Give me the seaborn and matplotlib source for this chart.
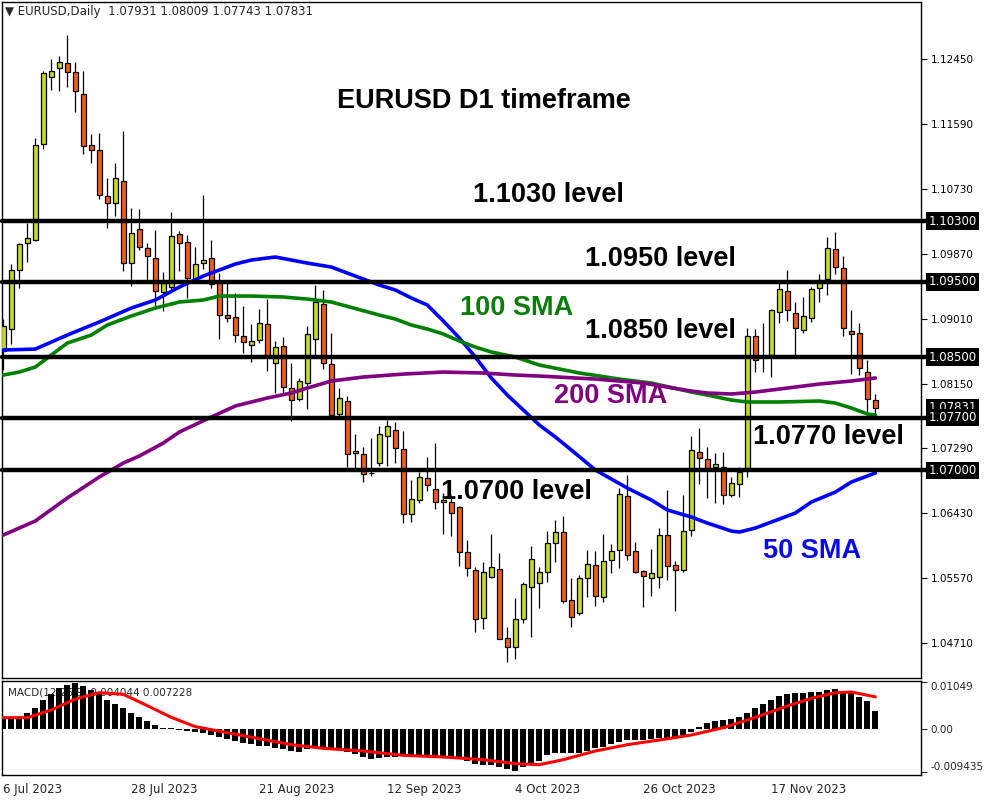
import matplotlib
matplotlib.use("Agg")
import matplotlib.pyplot as plt
import matplotlib.transforms as mtransforms
import pandas as pd
import seaborn as sns

sns.set_style("white")
plt.rcParams["font.family"] = ["DejaVu Sans"]

# -------------------------------
# Data (EURUSD daily, 6 Jul 2023 -> 6 Dec 2023)
# -------------------------------
opens = [1.08587, 1.08869, 1.09649, 1.10010, 1.10047, 1.11320, 1.12209, 1.12328, 1.12392, 1.12274,
         1.11981, 1.11305, 1.11251, 1.10631, 1.10540, 1.10831, 1.09754, 1.10192, 1.09942, 1.09810,
         1.09359, 1.09433, 1.10128, 1.10022, 1.09535, 1.09743, 1.09810, 1.09492, 1.09054, 1.09032,
         1.08780, 1.08657, 1.08723, 1.08935, 1.08418, 1.08648, 1.08087, 1.07949, 1.08153, 1.08736,
         1.09200, 1.08405, 1.07747, 1.07915, 1.07226, 1.07217, 1.06961, 1.07101, 1.07459, 1.07531,
         1.07279, 1.06418, 1.06607, 1.06895, 1.06757, 1.06577, 1.06577, 1.06510, 1.05914, 1.05676,
         1.05048, 1.05591, 1.05689, 1.04775, 1.04655, 1.05034, 1.05450, 1.05503, 1.05649, 1.06033,
         1.06179, 1.05282, 1.05106, 1.05570, 1.05742, 1.05326, 1.05808, 1.05949, 1.06656, 1.05927,
         1.05666, 1.05570, 1.05591, 1.06139, 1.05742, 1.05676, 1.06206, 1.07239, 1.07150, 1.07040,
         1.07048, 1.06669, 1.06819, 1.07027, 1.08776, 1.08502, 1.08528, 1.09094, 1.09376, 1.09081,
         1.08860, 1.09015, 1.09420, 1.09531, 1.09929, 1.09677, 1.08846, 1.08816, 1.08307, 1.07931]
highs = [1.09005, 1.09737, 1.10010, 1.10275, 1.11402, 1.12291, 1.12452, 1.12487, 1.12766, 1.12411,
         1.12291, 1.11457, 1.11470, 1.10868, 1.11074, 1.11498, 1.10476, 1.10461, 1.10019, 1.10183,
         1.09624, 1.10419, 1.10171, 1.10114, 1.09955, 1.10648, 1.10052, 1.09611, 1.09492, 1.09346,
         1.09178, 1.08939, 1.09138, 1.09274, 1.08714, 1.08767, 1.08422, 1.08224, 1.08913, 1.09456,
         1.09390, 1.08820, 1.08091, 1.07985, 1.07482, 1.07305, 1.07429, 1.07588, 1.07667, 1.07641,
         1.07517, 1.06872, 1.06974, 1.07173, 1.07358, 1.06704, 1.06673, 1.06532, 1.06077, 1.05723,
         1.05782, 1.06157, 1.05901, 1.04920, 1.05305, 1.05525, 1.05998, 1.05723, 1.06196, 1.06342,
         1.06395, 1.05570, 1.05613, 1.05941, 1.05931, 1.06157, 1.06024, 1.06762, 1.06938, 1.06051,
         1.05680, 1.05958, 1.06236, 1.06740, 1.05795, 1.06669, 1.07459, 1.07557, 1.07305, 1.07226,
         1.07239, 1.06916, 1.07048, 1.08882, 1.08873, 1.08956, 1.09134, 1.09500, 1.09655, 1.09235,
         1.09293, 1.09433, 1.09598, 1.10096, 1.10162, 1.09840, 1.09125, 1.08948, 1.08462, 1.08009]
lows = [1.08335, 1.08669, 1.09421, 1.09763, 1.10040, 1.11260, 1.12045, 1.12032, 1.12086, 1.11744,
        1.11188, 1.11078, 1.10599, 1.10206, 1.10375, 1.09645, 1.09440, 1.09924, 1.09513, 1.09179,
        1.09115, 1.09390, 1.09645, 1.09288, 1.09496, 1.09664, 1.09420, 1.08736, 1.08962, 1.08701,
        1.08551, 1.08440, 1.08687, 1.08320, 1.08021, 1.08021, 1.07654, 1.07923, 1.07809, 1.08528,
        1.08347, 1.07694, 1.07724, 1.07048, 1.07027, 1.06850, 1.06929, 1.07058, 1.07058, 1.07093,
        1.06306, 1.06320, 1.06567, 1.06730, 1.06484, 1.06153, 1.06134, 1.05737, 1.05604, 1.04862,
        1.04894, 1.05570, 1.04761, 1.04464, 1.04496, 1.04981, 1.04796, 1.05180, 1.05525, 1.05790,
        1.05238, 1.04928, 1.05083, 1.05318, 1.05207, 1.05260, 1.05636, 1.05702, 1.05812, 1.05636,
        1.05193, 1.05339, 1.05445, 1.05551, 1.05140, 1.05653, 1.06134, 1.06819, 1.06630, 1.06571,
        1.06550, 1.06643, 1.06643, 1.06916, 1.08307, 1.08307, 1.08233, 1.08956, 1.08983, 1.08528,
        1.08816, 1.08966, 1.09235, 1.09323, 1.09601, 1.08784, 1.08276, 1.08263, 1.07777, 1.07743]
closes = [1.08915, 1.09649, 1.09996, 1.10073, 1.11305, 1.12259, 1.12287, 1.12405, 1.12274, 1.12022,
          1.11292, 1.11251, 1.10644, 1.10540, 1.10868, 1.09754, 1.10151, 1.09955, 1.09836, 1.09371,
          1.09478, 1.10105, 1.10008, 1.09553, 1.09730, 1.09787, 1.09465, 1.09054, 1.09015, 1.08789,
          1.08705, 1.08710, 1.08948, 1.08515, 1.08630, 1.08100, 1.07928, 1.08180, 1.08807, 1.09227,
          1.08418, 1.07733, 1.07959, 1.07213, 1.07256, 1.06952, 1.06969, 1.07482, 1.07588, 1.07292,
          1.06418, 1.06616, 1.06908, 1.06802, 1.06585, 1.06607, 1.06431, 1.05914, 1.05702, 1.05026,
          1.05649, 1.05715, 1.04769, 1.04655, 1.05026, 1.05494, 1.05821, 1.05649, 1.06033, 1.06179,
          1.05265, 1.05053, 1.05570, 1.05759, 1.05339, 1.05795, 1.05931, 1.06683, 1.05882, 1.05649,
          1.05596, 1.05636, 1.06139, 1.05729, 1.05676, 1.06192, 1.07266, 1.07160, 1.07031, 1.07080,
          1.06669, 1.06828, 1.06974, 1.08776, 1.08462, 1.08515, 1.09125, 1.09399, 1.09125, 1.08882,
          1.09049, 1.09403, 1.09522, 1.09942, 1.09690, 1.08882, 1.08802, 1.08352, 1.07940, 1.07831]
bar_idx = list(range(len(closes)))

# moving averages at the listed bars
sma50_idx = [0, 4, 8, 12, 16, 19, 22, 25, 27, 29, 31, 34, 36, 38, 41, 47, 49, 51, 53, 55,
             57, 59, 61, 63, 65, 67, 69, 71, 74, 78, 81, 83, 86, 88, 91, 92, 94, 97, 99, 101,
             104, 106, 109]
sma50 = [1.08595, 1.08607, 1.08793, 1.08966, 1.09151, 1.09257, 1.09429, 1.09575, 1.09655, 1.09734,
         1.09787, 1.09827, 1.09787, 1.09747, 1.09694, 1.09456, 1.09390, 1.09284, 1.09191, 1.08979,
         1.08754, 1.08502, 1.08224, 1.07998, 1.07800, 1.07601, 1.07442, 1.07270, 1.07005, 1.06766,
         1.06607, 1.06475, 1.06382, 1.06302, 1.06196, 1.06183, 1.06236, 1.06355, 1.06435, 1.06581,
         1.06713, 1.06846, 1.06965]
sma100_idx = [0, 2, 4, 6, 8, 11, 13, 16, 19, 22, 25, 27, 31, 35, 38, 41, 47, 49, 51, 53,
              55, 57, 59, 61, 64, 67, 72, 77, 81, 86, 88, 91, 93, 97, 102, 104, 106, 108, 109]
sma100 = [1.08263, 1.08303, 1.08369, 1.08528, 1.08687, 1.08793, 1.08926, 1.09045, 1.09151, 1.09231,
          1.09257, 1.09310, 1.09310, 1.09297, 1.09270, 1.09231, 1.09058, 1.09005, 1.08926, 1.08873,
          1.08807, 1.08714, 1.08634, 1.08568, 1.08502, 1.08396, 1.08290, 1.08210, 1.08157, 1.08038,
          1.07998, 1.07932, 1.07906, 1.07906, 1.07919, 1.07892, 1.07826, 1.07747, 1.07733]
sma200_idx = [0, 4, 8, 12, 15, 17, 20, 22, 26, 29, 33, 36, 38, 41, 45, 50, 55, 60, 64, 67,
              74, 80, 86, 88, 91, 94, 98, 102, 106, 109]
sma200 = [1.06143, 1.06329, 1.06634, 1.06912, 1.07097, 1.07190, 1.07362, 1.07508, 1.07707, 1.07853,
          1.07959, 1.08025, 1.08091, 1.08184, 1.08237, 1.08276, 1.08303, 1.08290, 1.08263, 1.08250,
          1.08210, 1.08157, 1.08051, 1.08025, 1.08012, 1.08038, 1.08091, 1.08144, 1.08184, 1.08224]

# MACD histogram (main line), one value per bar
macd_hist = [0.00225, 0.00232, 0.00262, 0.00358, 0.00469, 0.00653, 0.00786, 0.00911, 0.00985, 0.01020,
             0.00960, 0.00875, 0.00786, 0.00653, 0.00565, 0.00469, 0.00373, 0.00284, 0.00196, 0.00100,
             0.00041, 0.00026, -0.00004, -0.00026, -0.00055, -0.00085, -0.00114, -0.00159, -0.00203, -0.00255,
             -0.00292, -0.00328, -0.00358, -0.00373, -0.00402, -0.00432, -0.00476, -0.00506, -0.00439, -0.00417,
             -0.00410, -0.00424, -0.00454, -0.00491, -0.00542, -0.00616, -0.00646, -0.00638, -0.00616, -0.00601,
             -0.00587, -0.00572, -0.00579, -0.00587, -0.00587, -0.00587, -0.00601, -0.00638, -0.00690, -0.00764,
             -0.00786, -0.00786, -0.00830, -0.00880, -0.00920, -0.00830, -0.00749, -0.00690, -0.00565, -0.00528,
             -0.00528, -0.00528, -0.00528, -0.00469, -0.00417, -0.00380, -0.00328, -0.00277, -0.00240, -0.00232,
             -0.00232, -0.00218, -0.00196, -0.00181, -0.00159, -0.00122, -0.00048, 0.00063, 0.00137, 0.00196,
             0.00218, 0.00225, 0.00269, 0.00373, 0.00469, 0.00565, 0.00653, 0.00742, 0.00786, 0.00801,
             0.00815, 0.00823, 0.00838, 0.00875, 0.00889, 0.00860, 0.00801, 0.00727, 0.00631, 0.004044]
sig_idx = [0, 3, 6, 9, 12, 15, 18, 21, 24, 28, 32, 36, 40, 45, 50, 55, 60, 64, 67, 70,
           74, 78, 82, 86, 90, 94, 98, 101, 104, 106, 109]
macd_signal = [0.00262, 0.00262, 0.00432, 0.00675, 0.00815, 0.00779, 0.00528, 0.00269, 0.00063, -0.00070,
               -0.00203, -0.00336, -0.00417, -0.00476, -0.00572, -0.00609, -0.00668, -0.00756, -0.00779, -0.00668,
               -0.00476, -0.00336, -0.00232, -0.00122, 0.00041, 0.00269, 0.00520, 0.00690, 0.00815, 0.00830,
               0.007228]

levels = [1.10300, 1.09500, 1.08500, 1.07700, 1.07000]
level_labels = ["1.10300", "1.09500", "1.08500", "1.07700", "1.07000"]
price_ticks = [1.12450, 1.11590, 1.10730, 1.09870, 1.09010, 1.08150, 1.07290, 1.06430, 1.05570, 1.04710]
date_ticks = [0, 16, 32, 48, 64, 80, 96]
date_labels = ["6 Jul 2023", "28 Jul 2023", "21 Aug 2023", "12 Sep 2023", "4 Oct 2023", "26 Oct 2023", "17 Nov 2023"]

BULL = "#c8d62a"
BEAR = "#f25c1c"

# -------------------------------
# Figure
# -------------------------------
fig = plt.figure(figsize=(10, 8), dpi=100)
ax1 = fig.add_axes([0.002, 0.1525, 0.919, 0.845])
ax2 = fig.add_axes([0.002, 0.03125, 0.919, 0.1175], sharex=ax1)

# candles
body_lo = [min(o, c) for o, c in zip(opens, closes)]
body_h = [abs(c - o) for o, c in zip(opens, closes)]
colors = [BULL if c >= o else BEAR for o, c in zip(opens, closes)]
ax1.vlines(bar_idx, lows, highs, color="black", linewidth=0.9, zorder=2)
ax1.bar(bar_idx, body_h, bottom=body_lo, width=0.62, color=colors,
        edgecolor="black", linewidth=0.9, zorder=3)

# moving averages
sns.lineplot(x=sma50_idx, y=sma50, ax=ax1, color="#0000ff", linewidth=2.6, zorder=4)
sns.lineplot(x=sma100_idx, y=sma100, ax=ax1, color="#008000", linewidth=2.6, zorder=4)
sns.lineplot(x=sma200_idx, y=sma200, ax=ax1, color="#800080", linewidth=2.6, zorder=4)

# horizontal levels
for lvl in levels:
    ax1.axhline(lvl, xmin=0, xmax=1.008, color="black", linewidth=3.2, zorder=5, clip_on=False)

ax1.set_xlim(-0.16, 114.7)
ax1.set_ylim(1.04249, 1.13206)
ax1.yaxis.tick_right()
ax1.set_yticks(price_ticks)
ax1.set_yticklabels([f"{t:.5f}" for t in price_ticks])
ax1.tick_params(axis="y", length=4, width=0.8, pad=3, labelsize=7.5, colors="black")
ax1.tick_params(axis="x", bottom=False, labelbottom=False)
ax1.set_xlabel("")
ax1.set_ylabel("")

# price boxes on the right axis
trans = mtransforms.blended_transform_factory(ax1.transAxes, ax1.transData)
ax1.text(1.008, 1.07831, "1.07831", transform=trans, ha="left", va="center", color="white",
         fontsize=8.5, zorder=6, clip_on=False,
         bbox=dict(boxstyle="square,pad=0.2", facecolor="black", edgecolor="none"))
for lvl, lab in zip(levels, level_labels):
    ax1.text(1.008, lvl, lab, transform=trans, ha="left", va="center", color="white",
             fontsize=8.5, zorder=7, clip_on=False,
             bbox=dict(boxstyle="square,pad=0.2", facecolor="black", edgecolor="none"))

# MACD panel
macd_df = pd.DataFrame({"bar": bar_idx, "macd": macd_hist})
sns.barplot(data=macd_df, x="bar", y="macd", native_scale=True, color="black", width=0.75,
            saturation=1, errorbar=None, linewidth=0, ax=ax2, zorder=2)
sns.lineplot(x=sig_idx, y=macd_signal, ax=ax2, color="#ff0000", linewidth=2.2, zorder=3)
ax2.text(0.006, 0.88, "MACD(12,26,9) 0.004044 0.007228", transform=ax2.transAxes,
         fontsize=7.5, va="center", ha="left", zorder=1)
ax2.set_xlim(-0.16, 114.7)
ax2.set_ylim(-0.010073, 0.010737)
ax2.yaxis.tick_right()
ax2.set_yticks([0.01049, 0.0, -0.009435])
ax2.set_yticklabels(["0.01049", "0.00", "-0.009435"])
ax2.tick_params(axis="y", length=4, width=0.8, pad=3, labelsize=7.5)
labs = ax2.get_yticklabels()
labs[0].set_va("top")
labs[2].set_va("bottom")
ax2.set_xticks(date_ticks)
ax2.set_xticklabels(date_labels, ha="left")
ax2.tick_params(axis="x", length=4, width=0.8, pad=2, labelsize=8.5)
ax2.set_xlabel("")
ax2.set_ylabel("")

for ax in (ax1, ax2):
    for sp in ax.spines.values():
        sp.set_color("black")
        sp.set_linewidth(1.0)
    ax.grid(False)

# header text
fig.text(0.005, 1 - 12 / 800, "\u25bc EURUSD,Daily  1.07931 1.08009 1.07743 1.07831",
         fontsize=8.5, va="center", ha="left")

# annotations
bold = dict(fontfamily="Liberation Sans", fontweight="bold", fontsize=19.5, ha="center", va="center")
notes = [
    ("EURUSD D1 timeframe", 484, 101, "black"),
    ("1.1030 level", 548, 195, "black"),
    ("1.0950 level", 660, 259, "black"),
    ("100 SMA", 517, 308, "#0a7d0a"),
    ("1.0850 level", 660, 331, "black"),
    ("200 SMA", 611, 396, "#800080"),
    ("1.0770 level", 828, 437, "black"),
    ("1.0700 level", 516, 492, "black"),
    ("50 SMA", 812, 551, "#0a0ae6"),
]
for txt, x, y, c in notes:
    fig.text(x / 1000, 1 - y / 800, txt, color=c, zorder=10, **bold)

fig.savefig("out.png", dpi=100)
